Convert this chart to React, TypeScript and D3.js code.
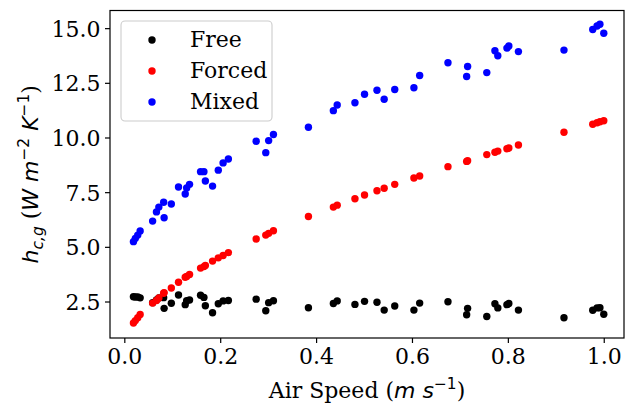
import { useEffect, useRef } from "react";
import * as d3 from "d3";

// air speed (m/s), shared by all three series
const airSpeed = [
  0.018, 0.022, 0.027, 0.032, 0.058, 0.066, 0.071, 0.081, 0.082, 0.097,
  0.112, 0.126, 0.129, 0.135, 0.158, 0.165, 0.168, 0.183, 0.195, 0.205,
  0.216, 0.274, 0.294, 0.3, 0.31, 0.383, 0.435, 0.443, 0.48, 0.5,
  0.526, 0.541, 0.563, 0.603, 0.615, 0.674, 0.715, 0.713, 0.755, 0.772,
  0.778, 0.797, 0.801, 0.821, 0.916, 0.976, 0.985, 0.991, 0.999,
];

const hFree = [
  2.74, 2.73, 2.73, 2.69, 2.47, 2.59, 2.68, 2.7, 2.21, 2.44,
  2.82, 2.38, 2.56, 2.59, 2.81, 2.71, 2.33, 2.01, 2.42, 2.55,
  2.57, 2.63, 2.1, 2.47, 2.56, 2.24, 2.43, 2.55, 2.39, 2.53,
  2.49, 2.13, 2.32, 2.13, 2.45, 2.51, 2.21, 1.92, 1.84, 2.42,
  2.23, 2.38, 2.43, 2.13, 1.78, 2.12, 2.23, 2.24, 1.94,
];

const hForced = [
  1.54, 1.65, 1.78, 1.93, 2.45, 2.57, 2.68, 2.9, 2.93, 3.14,
  3.4, 3.63, 3.67, 3.76, 4.05, 4.12, 4.17, 4.37, 4.52, 4.63,
  4.76, 5.38, 5.56, 5.64, 5.76, 6.41, 6.84, 6.93, 7.22, 7.39,
  7.59, 7.7, 7.88, 8.17, 8.26, 8.69, 8.96, 8.93, 9.24, 9.35,
  9.4, 9.51, 9.54, 9.68, 10.26, 10.63, 10.7, 10.74, 10.79,
];

const hMixed = [
  5.26, 5.41, 5.56, 5.75, 6.2, 6.62, 6.84, 7.06, 6.35, 6.98,
  7.76, 7.44, 7.71, 7.88, 8.46, 8.46, 8.03, 7.8, 8.53, 8.86,
  9.04, 9.85, 9.33, 9.88, 10.16, 10.49, 11.25, 11.51, 11.61, 12.0,
  12.18, 11.77, 12.22, 12.3, 12.86, 13.44, 13.27, 12.81, 12.99, 13.99,
  13.76, 14.11, 14.21, 13.95, 14.02, 14.96, 15.12, 15.2, 14.79,
];

const seriesNames = ["Free", "Forced", "Mixed"];
const seriesColors = ["black", "red", "blue"];
const xTicks = [0, 0.2, 0.4, 0.6, 0.8, 1.0];
const yTicks = [2.5, 5, 7.5, 10, 12.5, 15];

const serif = "'DejaVu Serif', serif";
const sans = "'DejaVu Sans', sans-serif";

const Chart = () => {
  const ref = useRef<HTMLDivElement>(null);

  useEffect(() => {
    const width = 625;
    const height = 406;
    const fontSize = 22;
    const left = 110,
      right = 624,
      top = 10.5,
      bottom = 338;

    d3.select(ref.current).selectAll("*").remove();

    const svg = d3
      .select(ref.current)
      .append("svg")
      .attr("width", width)
      .attr("height", height)
      .style("display", "block");

    const x = d3.scaleLinear().domain([-0.0309, 1.0412]).range([left, right]);
    const y = d3.scaleLinear().domain([0.854, 15.83]).range([bottom, top]);

    const series = [hFree, hForced, hMixed];

    // points
    series.forEach((vals, si) => {
      svg
        .append("g")
        .selectAll("circle")
        .data(vals)
        .join("circle")
        .attr("cx", (d, i) => x(airSpeed[i]))
        .attr("cy", (d) => y(d))
        .attr("r", 3.7)
        .attr("fill", seriesColors[si]);
    });

    // frame
    svg
      .append("rect")
      .attr("x", left)
      .attr("y", top)
      .attr("width", right - left)
      .attr("height", bottom - top)
      .attr("fill", "none")
      .attr("stroke", "black")
      .attr("stroke-width", 1.2);

    // x axis
    const xAxis = svg.append("g");
    xTicks.forEach((t) => {
      xAxis
        .append("line")
        .attr("x1", x(t))
        .attr("x2", x(t))
        .attr("y1", bottom)
        .attr("y2", bottom + 5)
        .attr("stroke", "black")
        .attr("stroke-width", 1.2);
      xAxis
        .append("text")
        .attr("x", x(t))
        .attr("y", bottom + 26)
        .attr("text-anchor", "middle")
        .style("font-family", serif)
        .style("font-size", `${fontSize}px`)
        .text(t.toFixed(1));
    });

    // y axis
    const yAxis = svg.append("g");
    yTicks.forEach((t) => {
      yAxis
        .append("line")
        .attr("x1", left - 5)
        .attr("x2", left)
        .attr("y1", y(t))
        .attr("y2", y(t))
        .attr("stroke", "black")
        .attr("stroke-width", 1.2);
      yAxis
        .append("text")
        .attr("x", left - 9.5)
        .attr("y", y(t) + 8)
        .attr("text-anchor", "end")
        .style("font-family", serif)
        .style("font-size", `${fontSize}px`)
        .text(t.toFixed(1));
    });

    // x label: Air Speed (m s^-1)
    const xl = svg
      .append("text")
      .attr("x", (left + right) / 2)
      .attr("y", 398)
      .attr("text-anchor", "middle")
      .style("font-family", serif)
      .style("font-size", `${fontSize}px`);
    xl.append("tspan").text("Air Speed (");
    xl.append("tspan").style("font-family", sans).style("font-style", "italic").text("m s");
    xl.append("tspan")
      .style("font-family", sans)
      .style("font-size", `${fontSize * 0.7}px`)
      .attr("dy", -9)
      .text("\u22121");
    xl.append("tspan").attr("dy", 9).text(")");

    // y label: h_{c,g} (W m^-2 K^-1)
    const yl = svg
      .append("text")
      .attr("transform", `translate(38,${(top + bottom) / 2}) rotate(-90)`)
      .attr("text-anchor", "middle")
      .style("font-family", sans)
      .style("font-size", `${fontSize}px`);
    yl.append("tspan").style("font-style", "italic").text("h");
    yl.append("tspan")
      .style("font-style", "italic")
      .style("font-size", `${fontSize * 0.7}px`)
      .attr("dy", 5)
      .text("c,g");
    yl.append("tspan").attr("dy", -5).style("font-family", serif).text(" (");
    yl.append("tspan").style("font-style", "italic").text("W m");
    yl.append("tspan")
      .style("font-size", `${fontSize * 0.7}px`)
      .attr("dy", -9)
      .text("\u22122");
    yl.append("tspan").attr("dy", 9).style("font-style", "italic").text(" K");
    yl.append("tspan")
      .style("font-size", `${fontSize * 0.7}px`)
      .attr("dy", -9)
      .text("\u22121");
    yl.append("tspan").attr("dy", 9).style("font-family", serif).text(")");

    // legend
    const lg = svg.append("g");
    lg.append("rect")
      .attr("x", 121)
      .attr("y", 21)
      .attr("width", 151)
      .attr("height", 100)
      .attr("rx", 4)
      .attr("fill", "white")
      .attr("fill-opacity", 0.8)
      .attr("stroke", "#cccccc")
      .attr("stroke-width", 1.1);
    seriesNames.forEach((name, i) => {
      const cy = 40 + i * 31;
      lg.append("circle")
        .attr("cx", 152)
        .attr("cy", cy)
        .attr("r", 3.7)
        .attr("fill", seriesColors[i]);
      lg.append("text")
        .attr("x", 190)
        .attr("y", cy + 6.5)
        .style("font-family", serif)
        .style("font-size", `${fontSize}px`)
        .text(name);
    });
  }, []);

  return <div ref={ref}></div>;
};

export default function App() {
  useEffect(() => {
    document.body.style.margin = "0";
  }, []);
  return <Chart />;
}
